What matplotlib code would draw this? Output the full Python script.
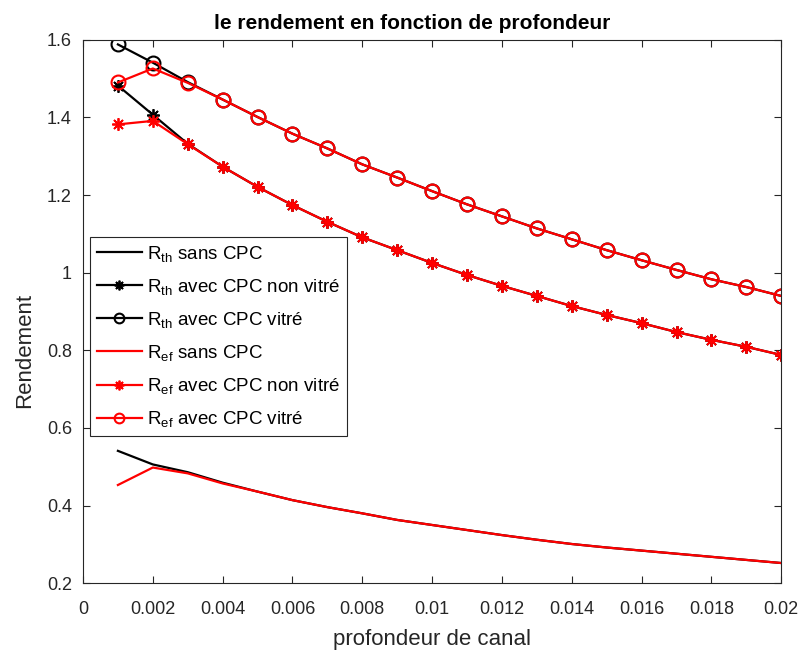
import numpy as np
import matplotlib
matplotlib.use('Agg')
import matplotlib.pyplot as plt

plt.rcParams['font.family'] = ['Liberation Sans', 'DejaVu Sans']
plt.rcParams['mathtext.fontset'] = 'custom'
plt.rcParams['mathtext.rm'] = 'Liberation Sans'
plt.rcParams['mathtext.it'] = 'Liberation Sans'

# profondeur de canal (m)
profondeur = [0.001, 0.002, 0.003, 0.004, 0.005, 0.006, 0.007, 0.008, 0.009, 0.010,
              0.011, 0.012, 0.013, 0.014, 0.015, 0.016, 0.017, 0.018, 0.019, 0.020]

# rendement thermique
r_th_sans = [0.541, 0.506, 0.486, 0.459, 0.436, 0.414, 0.396, 0.380, 0.363, 0.350,
             0.337, 0.324, 0.312, 0.301, 0.292, 0.284, 0.276, 0.268, 0.260, 0.252]
r_th_non_vitre = [1.482, 1.407, 1.332, 1.273, 1.221, 1.174, 1.131, 1.091, 1.058, 1.025,
                  0.994, 0.966, 0.940, 0.914, 0.891, 0.870, 0.847, 0.827, 0.809, 0.788]
r_th_vitre = [1.588, 1.541, 1.491, 1.446, 1.401, 1.358, 1.320, 1.279, 1.245, 1.210,
              1.176, 1.145, 1.114, 1.086, 1.058, 1.032, 1.007, 0.983, 0.963, 0.940]

# rendement effectif
r_ef_sans = [0.453, 0.498, 0.483, 0.457, 0.436, 0.414, 0.396, 0.380, 0.363, 0.350,
             0.337, 0.324, 0.312, 0.301, 0.292, 0.284, 0.276, 0.268, 0.260, 0.252]
r_ef_non_vitre = [1.382, 1.391, 1.331, 1.273, 1.221, 1.174, 1.131, 1.091, 1.058, 1.025,
                  0.994, 0.966, 0.940, 0.914, 0.891, 0.870, 0.847, 0.827, 0.809, 0.788]
r_ef_vitre = [1.490, 1.526, 1.489, 1.446, 1.401, 1.358, 1.320, 1.279, 1.245, 1.210,
              1.176, 1.145, 1.114, 1.086, 1.058, 1.032, 1.007, 0.983, 0.963, 0.940]

xtick_labels = ['0', '0.002', '0.004', '0.006', '0.008', '0.01',
                '0.012', '0.014', '0.016', '0.018', '0.02']
ytick_labels = ['0.2', '0.4', '0.6', '0.8', '1', '1.2', '1.4', '1.6']

fig = plt.figure(figsize=(7.98, 6.52), dpi=100)
ax = fig.add_axes([0.104, 0.1055, 0.875, 0.8335])

lw = 1.6
star = (8, 2, 0)
ax.plot(profondeur, r_th_sans, color='black', lw=lw, label=r'R$_{\rm th}$ sans CPC')
ax.plot(profondeur, r_th_non_vitre, color='black', lw=lw, marker=star, ms=9, mew=1.3,
        label=r'R$_{\rm th}$ avec CPC non vitré')
ax.plot(profondeur, r_th_vitre, color='black', lw=lw, marker='o', ms=10, mfc='none', mew=1.5,
        label=r'R$_{\rm th}$ avec CPC vitré')
ax.plot(profondeur, r_ef_sans, color='red', lw=lw, label=r'R$_{\rm ef}$ sans CPC')
ax.plot(profondeur, r_ef_non_vitre, color='red', lw=lw, marker=star, ms=9, mew=1.3,
        label=r'R$_{\rm ef}$ avec CPC non vitré')
ax.plot(profondeur, r_ef_vitre, color='red', lw=lw, marker='o', ms=10, mfc='none', mew=1.5,
        label=r'R$_{\rm ef}$ avec CPC vitré')

ax.set_xlim(0, 0.02)
ax.set_ylim(0.2, 1.6)
ax.set_xticks(np.linspace(0, 0.02, len(xtick_labels)))
ax.set_xticklabels(xtick_labels)
ax.set_yticks([float(t) for t in ytick_labels])
ax.set_yticklabels(ytick_labels)
ax.tick_params(direction='in', top=True, right=True, labelsize=13, colors='#262626',
               length=5, width=0.8)
ax.tick_params(axis='x', pad=12.5)
ax.tick_params(axis='y', pad=8)
for s in ax.spines.values():
    s.set_color('#262626')
    s.set_linewidth(0.8)

ax.set_xlabel('profondeur de canal', fontsize=16, color='#262626', labelpad=8)
ax.set_ylabel('Rendement', fontsize=16, color='#262626')
ax.yaxis.set_label_coords(-0.069, 0.429)
ax.set_title('le rendement en fonction de profondeur', fontsize=15, fontweight='bold',
             pad=8, x=0.471)

leg = ax.legend(loc='upper left', bbox_to_anchor=(0.01, 0.637), borderaxespad=0,
                fontsize=13.5, fancybox=False, edgecolor='#262626', framealpha=1,
                handlelength=2.4, labelspacing=0.7, handletextpad=0.3, borderpad=0.35)
leg.get_frame().set_linewidth(0.8)
for h in leg.legend_handles:
    h.set_markersize(7)

fig.savefig('out.png', dpi=100)
